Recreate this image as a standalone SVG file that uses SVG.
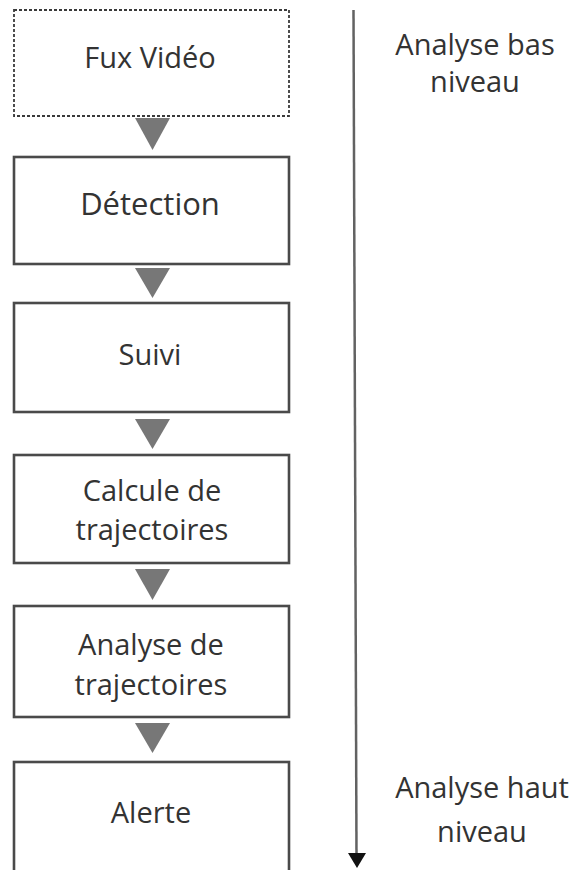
<svg xmlns="http://www.w3.org/2000/svg" width="576" height="870" viewBox="0 0 576 870">
<style>
.box{fill:#fff;stroke:#4a4a4a;stroke-width:2.6}
.dash{fill:#fff;stroke:#3a3a3a;stroke-width:1.8;stroke-dasharray:3 2}
.lbl{font-family:"Open Sans","Liberation Sans",sans-serif;font-size:29px;font-weight:500;fill:#333;text-anchor:middle}
.tri{fill:#777}
</style>
<rect width="576" height="870" fill="#fff"/>
<g id="connectors">
<polygon class="tri" points="135,118 170,118 152.5,150"/>
<polygon class="tri" points="135,268 170,268 152.5,298"/>
<polygon class="tri" points="135,419 170,419 152.5,449"/>
<polygon class="tri" points="135,569 170,569 152.5,600"/>
<polygon class="tri" points="135,723 170,723 152.5,753"/>
<line x1="353.5" y1="10" x2="356.5" y2="856" stroke="#626262" stroke-width="2.5"/>
<polygon points="348,853 366,853 357,868" fill="#111"/>
</g>
<g id="fux-video">
<rect class="dash" x="14" y="10" width="275" height="106"/>
<text class="lbl" x="150" y="68">Fux Vidéo</text>
</g>
<g id="detection">
<rect class="box" x="14" y="157" width="275" height="107"/>
<text class="lbl" x="150" y="215" style="font-size:31px">Détection</text>
</g>
<g id="suivi">
<rect class="box" x="14" y="303" width="275" height="109"/>
<text class="lbl" x="150" y="365">Suivi</text>
</g>
<g id="calcule">
<rect class="box" x="14" y="455" width="275" height="108"/>
<text class="lbl" x="152" y="501">Calcule de</text>
<text class="lbl" x="152" y="540">trajectoires</text>
</g>
<g id="analyse">
<rect class="box" x="14" y="606" width="275" height="111"/>
<text class="lbl" x="151" y="655">Analyse de</text>
<text class="lbl" x="151" y="695">trajectoires</text>
</g>
<g id="alerte">
<rect class="box" x="14" y="762" width="275" height="130"/>
<text class="lbl" x="151" y="823">Alerte</text>
</g>
<g id="label-bas">
<text class="lbl" x="475" y="55">Analyse bas</text>
<text class="lbl" x="475" y="92">niveau</text>
</g>
<g id="label-haut">
<text class="lbl" x="482" y="798">Analyse haut</text>
<text class="lbl" x="482" y="842">niveau</text>
</g>
</svg>
